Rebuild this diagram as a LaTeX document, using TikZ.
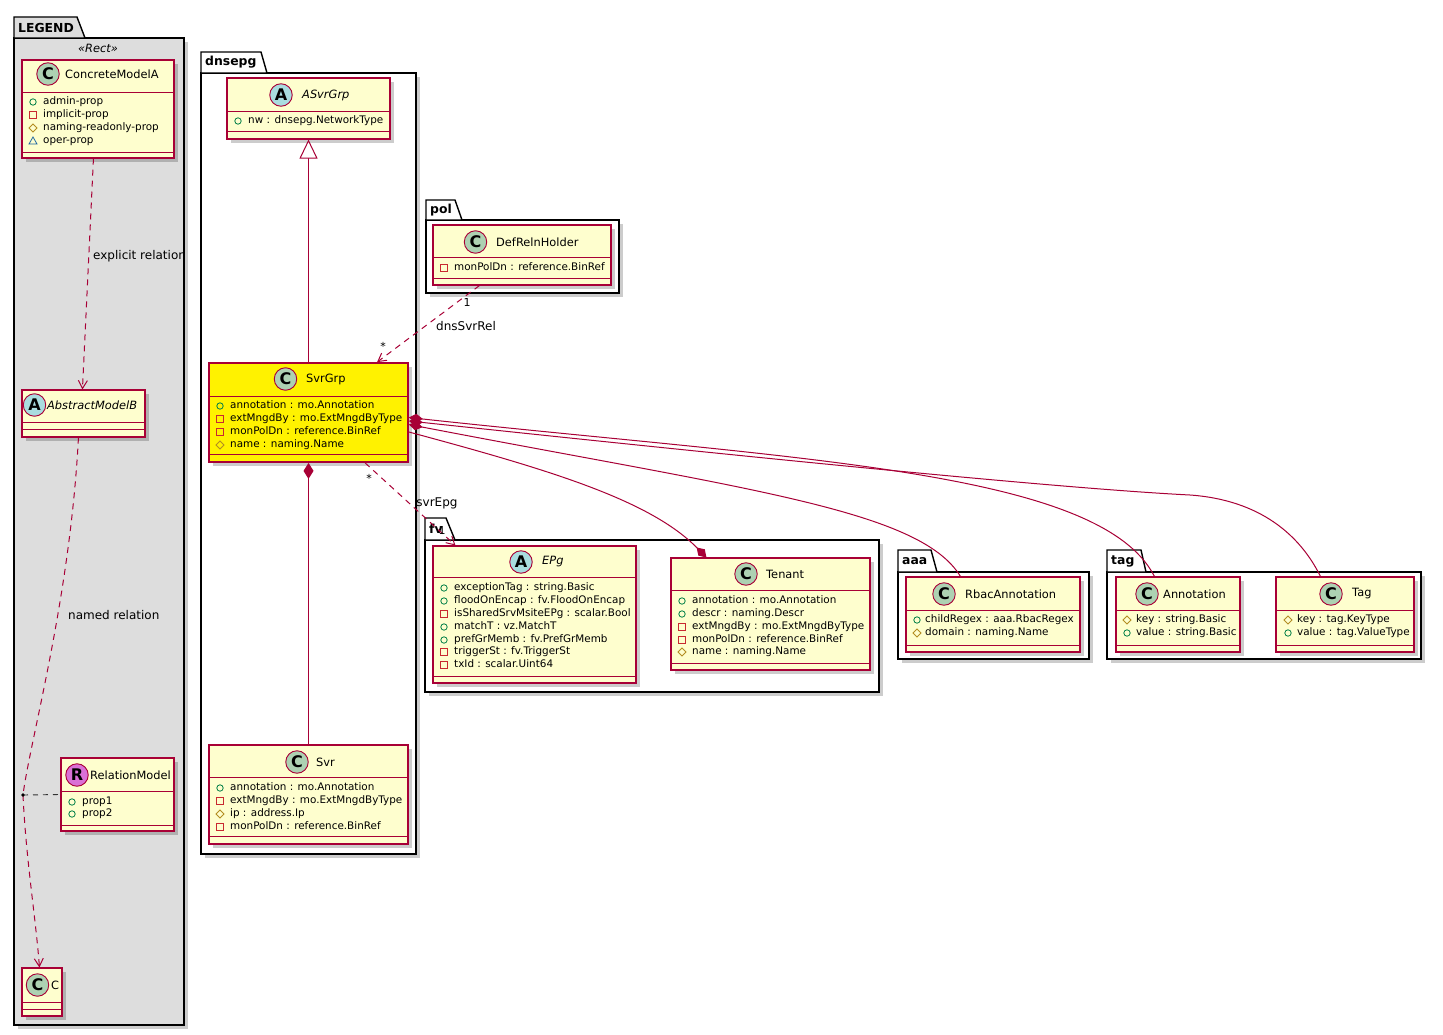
\documentclass[tikz,border=0pt]{standalone}
\usepackage{fontspec}
\setmainfont{DejaVu Sans}[ItalicFont={DejaVu Sans Oblique},BoldFont={DejaVu Sans Bold},BoldItalicFont={DejaVu Sans Bold Oblique}]
\usetikzlibrary{arrows.meta,shadows,fit,calc}
\definecolor{cborder}{HTML}{A80036}
\definecolor{cfill}{HTML}{FEFECE}
\definecolor{ccirc}{HTML}{ADD1B2}
\definecolor{acirc}{HTML}{A9DCDF}
\definecolor{rcirc}{HTML}{DA70D6}
\definecolor{pubc}{HTML}{038048}
\definecolor{privc}{HTML}{C82930}
\definecolor{protc}{HTML}{B38D22}
\definecolor{packc}{HTML}{1963A0}
\definecolor{legendbg}{HTML}{DDDDDD}
\colorlet{pkgfill}{white}
\tikzset{
  umlshadow/.style={drop shadow={shadow xshift=4pt,shadow yshift=-4pt,opacity=0.2,fill=black}},
  classbox/.style={draw=cborder,line width=1.1pt,fill=cfill,inner sep=0pt,umlshadow},
  sepline/.style={draw=cborder,line width=0.9pt},
  letterc/.style={circle,draw=cborder,line width=0.9pt,minimum size=22.5pt,inner sep=0pt,font=\fontsize{16}{16}\selectfont\bfseries},
  cname/.style={anchor=west,inner sep=0pt,font=\fontsize{11.4}{13}\selectfont},
  attrtxt/.style={anchor=west,inner sep=0pt,text height=7.6pt,text depth=2.2pt,font=\fontsize{10.4}{12}\selectfont},
  pkgbody/.style={draw=black,line width=1.4pt,fill=pkgfill,umlshadow},
  pkgtab/.style={draw=black,line width=1.4pt,fill=pkgfill},
  pkglabel/.style={anchor=west,inner sep=0pt,font=\fontsize{12.4}{14}\selectfont\bfseries},
  rel/.style={draw=cborder,line width=1pt},
  dashedrel/.style={rel,dash pattern=on 6pt off 5pt},
  openarrow/.style={-{Straight Barb[length=8pt,width=9pt]}},
  lbl/.style={inner sep=0pt,font=\fontsize{12}{14}\selectfont},
  mult/.style={inner sep=0pt,font=\fontsize{11}{13}\selectfont},
}
\newcounter{attrn}
\newcommand{\vpub}[2]{\draw[pubc,line width=0.8pt] (#1,#2) circle[radius=3.2pt];}
\newcommand{\vpriv}[2]{\draw[privc,line width=0.8pt] (#1-3.2,#2-3.2) rectangle (#1+3.2,#2+3.2);}
\newcommand{\vprot}[2]{\draw[protc,line width=0.8pt] (#1-4,#2) -- (#1,#2-4) -- (#1+4,#2) -- (#1,#2+4) -- cycle;}
\newcommand{\vpack}[2]{\draw[packc,line width=0.8pt] (#1-4,#2+3) -- (#1+4,#2+3) -- (#1,#2-4) -- cycle;}
\newcommand{\umlattr}[5]{\csname v#1\endcsname{#2}{#4}\stepcounter{attrn}\node[attrtxt] (attr-\arabic{attrn}) at (#3,#4) {#5};}
\newcommand{\umlclass}[8][]{\node[classbox,#1,fit={(#3,#4) (#5,#6)}] (#2) {};
  \draw[sepline] (#3,#7) -- (#5,#7);
  \draw[sepline] (#3,#8) -- (#5,#8);}
\newcommand{\umlhead}[7]{\node[letterc,fill=#3] (#1-ic) at (#4,#5) {#2};
  \node[cname] (#1-nm) at (#6,#5) {#7};}
\newcommand{\umlpkg}[9]{\path[pkgbody] (#3,#7) rectangle (#8,#9);
  \draw[pkgtab] (#3,#7) -- (#3,#4) -- (#5,#4) -- (#6,#7) -- cycle;
  \node[pkglabel] (#1) at (#3+4,{(#4+#7)/2}) {#2};}
\begin{document}
\begin{tikzpicture}[x=1pt,y=-1pt]
\useasboundingbox (0,0) rectangle (1443,1035);
\fill[white] (0,0) rectangle (1443,1035);
% ---------- packages
\colorlet{pkgfill}{legendbg}
\umlpkg{pkg-legend}{LEGEND}{14}{17}{77}{85}{38}{184}{1025}
\colorlet{pkgfill}{white}
\umlpkg{pkg-dnsepg}{dnsepg}{201}{52}{261}{267}{73}{416}{854}
\umlpkg{pkg-pol}{pol}{426}{200}{455}{462}{220}{619}{293}
\umlpkg{pkg-fv}{fv}{425}{518}{446}{455}{540}{879}{692}
\umlpkg{pkg-aaa}{aaa}{898}{550}{931}{937}{572}{1089}{659}
\umlpkg{pkg-tag}{tag}{1107}{550}{1141}{1146}{572}{1421}{659}
\node[inner sep=0pt,font=\fontsize{11.4}{13}\selectfont\itshape] (stereo) at (98,48) {«Rect»};
% ---------- legend classes
\umlclass{concrete}{22}{60}{174}{158}{92}{152}
\umlhead{concrete}{C}{ccirc}{48}{74}{65}{ConcreteModelA}
\umlattr{pub}{33}{43}{102}{admin-prop}
\umlattr{priv}{33}{43}{115}{implicit-prop}
\umlattr{prot}{33}{43}{128}{naming-readonly-prop}
\umlattr{pack}{33}{43}{141}{oper-prop}
\umlclass{abstractb}{22}{390}{145}{437}{422}{429}
\umlhead{abstractb}{A}{acirc}{34.5}{405}{47}{\itshape AbstractModelB}
\umlclass{relmodel}{61}{758}{174}{831}{791}{825}
\umlhead{relmodel}{R}{rcirc}{77}{775}{90}{RelationModel}
\umlattr{pub}{72}{82}{802}{prop1}
\umlattr{pub}{72}{82}{814}{prop2}
\umlclass{cclass}{22}{968}{62}{1016}{1002}{1009}
\umlhead{cclass}{C}{ccirc}{37.5}{985}{51}{C}
% ---------- dnsepg
\umlclass{asvrgrp}{227}{78}{390}{139}{111}{131}
\umlhead{asvrgrp}{A}{acirc}{281}{95}{302}{\itshape ASvrGrp}
\umlattr{pub}{238}{248}{121}{nw : dnsepg.NetworkType}
\umlclass[fill=yellow,line width=1.8pt]{svrgrp}{209}{363}{408}{462}{396}{454}
\umlhead{svrgrp}{C}{ccirc}{285.5}{379}{306}{SvrGrp}
\umlattr{pub}{220}{230}{406}{annotation : mo.Annotation}
\umlattr{priv}{220}{230}{419}{extMngdBy : mo.ExtMngdByType}
\umlattr{priv}{220}{230}{432}{monPolDn : reference.BinRef}
\umlattr{prot}{220}{230}{445}{name : naming.Name}
\umlclass{svr}{209}{745}{408}{844}{777}{836}
\umlhead{svr}{C}{ccirc}{297}{762}{316}{Svr}
\umlattr{pub}{220}{230}{788}{annotation : mo.Annotation}
\umlattr{priv}{220}{230}{801}{extMngdBy : mo.ExtMngdByType}
\umlattr{prot}{220}{230}{814}{ip : address.Ip}
\umlattr{priv}{220}{230}{827}{monPolDn : reference.BinRef}
% ---------- pol
\umlclass{defreln}{433}{225}{611}{285}{257}{278}
\umlhead{defreln}{C}{ccirc}{475.5}{242}{496}{DefRelnHolder}
\umlattr{priv}{444}{454}{268}{monPolDn : reference.BinRef}
% ---------- fv
\umlclass{epg}{433}{546}{636}{683}{577}{676}
\umlhead{epg}{A}{acirc}{521}{562}{542}{\itshape EPg}
\umlattr{pub}{444}{454}{588}{exceptionTag : string.Basic}
\umlattr{pub}{444}{454}{601}{floodOnEncap : fv.FloodOnEncap}
\umlattr{priv}{444}{454}{614}{isSharedSrvMsiteEPg : scalar.Bool}
\umlattr{pub}{444}{454}{627}{matchT : vz.MatchT}
\umlattr{pub}{444}{454}{640}{prefGrMemb : fv.PrefGrMemb}
\umlattr{priv}{444}{454}{652}{triggerSt : fv.TriggerSt}
\umlattr{priv}{444}{454}{665}{txId : scalar.Uint64}
\umlclass{tenant}{671}{558}{870}{670}{590}{663}
\umlhead{tenant}{C}{ccirc}{746}{574}{766}{Tenant}
\umlattr{pub}{682}{692}{601}{annotation : mo.Annotation}
\umlattr{pub}{682}{692}{614}{descr : naming.Descr}
\umlattr{priv}{682}{692}{627}{extMngdBy : mo.ExtMngdByType}
\umlattr{priv}{682}{692}{640}{monPolDn : reference.BinRef}
\umlattr{prot}{682}{692}{652}{name : naming.Name}
% ---------- aaa
\umlclass{rbac}{906}{577}{1080}{652}{610}{645}
\umlhead{rbac}{C}{ccirc}{944}{594}{965}{RbacAnnotation}
\umlattr{pub}{917}{925}{620}{childRegex : aaa.RbacRegex}
\umlattr{prot}{917}{925}{633}{domain : naming.Name}
% ---------- tag
\umlclass{annot}{1116}{577}{1240}{652}{610}{645}
\umlhead{annot}{C}{ccirc}{1147}{594}{1163}{Annotation}
\umlattr{prot}{1127}{1136}{620}{key : string.Basic}
\umlattr{pub}{1127}{1136}{633}{value : string.Basic}
\umlclass{tagc}{1276}{577}{1414}{652}{610}{645}
\umlhead{tagc}{C}{ccirc}{1331}{594}{1352}{Tag}
\umlattr{prot}{1288}{1297}{620}{key : tag.KeyType}
\umlattr{pub}{1288}{1297}{633}{value : tag.ValueType}
% ---------- connectors
\coordinate (dot) at (23,795);
\coordinate (tagbend) at (1190,495);
\draw[dashedrel,openarrow] ([xshift=72pt]concrete.south west) -- ([xshift=61pt]abstractb.north west);
\draw[dashedrel] ([xshift=57pt]abstractb.south west) .. controls (70,600) and (30,740) .. (dot);
\draw[dashedrel,openarrow] (dot) .. controls (26,860) and (36,920) .. ([xshift=18pt]cclass.north west);
\draw[dash pattern=on 5pt off 5pt,line width=0.9pt,black!80] (dot) -- (relmodel.west);
\fill[black] (dot) circle[radius=1.8pt];
\draw[rel,-{Triangle[open,fill=white,length=19pt,width=18pt]}] (svrgrp.north) -- (asvrgrp.south);
\draw[rel,{Diamond[length=16pt,width=10pt]}-] (svrgrp.south) -- (svr.north);
\draw[dashedrel,openarrow] ([xshift=47pt]defreln.south west) -- ([xshift=169pt]svrgrp.north west);
\draw[dashedrel,openarrow] ([xshift=157pt]svrgrp.south west) -- ([xshift=23pt]epg.north west);
\draw[rel,-{Diamond[length=14pt,width=9pt]}] ([yshift=-19.5pt]svrgrp.east) .. controls (550,470) and (650,500) .. ([xshift=36pt]tenant.north west);
\draw[rel,{Diamond[length=14pt,width=9pt]}-] ([yshift=-12pt]svrgrp.east) .. controls (750,490) and (920,510) .. ([xshift=55pt]rbac.north west);
\draw[rel,{Diamond[length=14pt,width=9pt]}-] ([yshift=-5pt]svrgrp.east) .. controls (800,460) and (1100,470) .. ([xshift=39pt]annot.north west);
\draw[rel,{Diamond[length=14pt,width=9pt]}-] ([yshift=-8.5pt]svrgrp.east) .. controls (700,452) and (1050,488) .. (tagbend) .. controls (1260,500) and (1300,535) .. ([xshift=45pt]tagc.north west);
% ---------- labels
\node[lbl,anchor=west] (l-explicit) at (93,256) {explicit relation};
\node[lbl,anchor=west] (l-named) at (68,615) {named relation};
\node[mult] (m-dns1) at (467,302) {1};
\node[lbl] (l-dns) at (466,326) {dnsSvrRel};
\node[mult] (m-dns2) at (383,346) {*};
\node[mult] (m-epg1) at (369,478) {*};
\node[lbl] (l-epg) at (437,503) {svrEpg};
\node[mult] (m-epg2) at (442,530) {1};
\end{tikzpicture}
\end{document}
